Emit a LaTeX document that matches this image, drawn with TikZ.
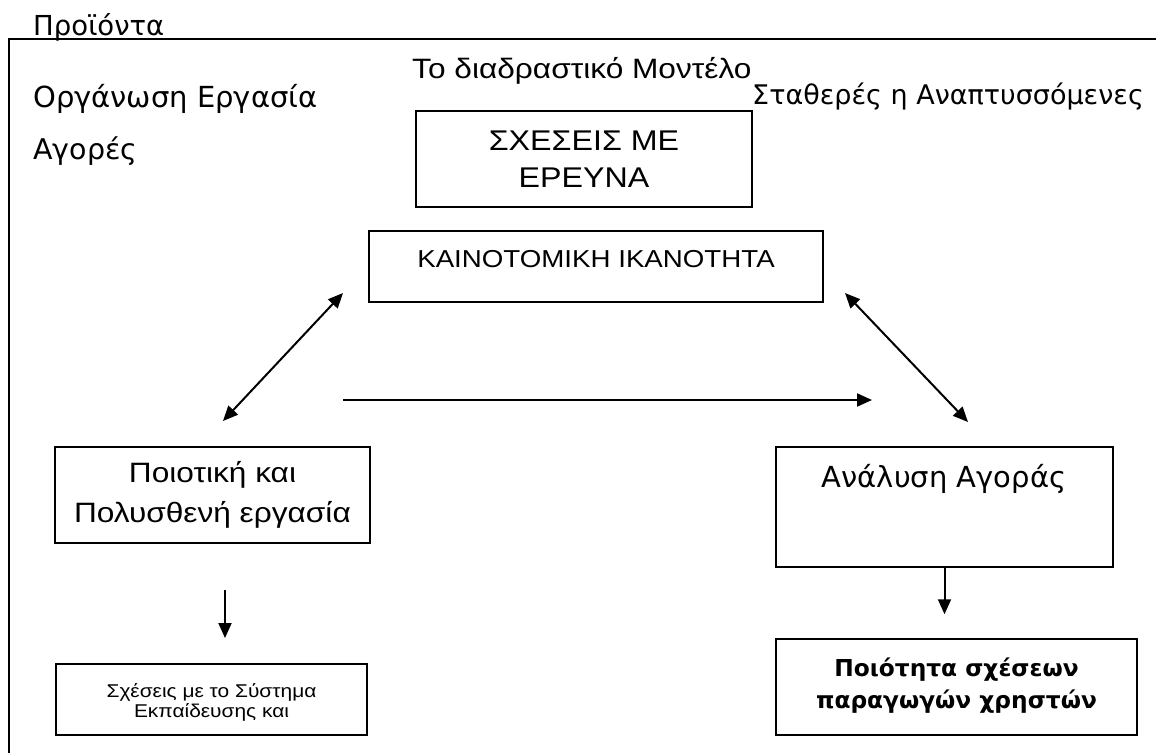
\documentclass[tikz,border=0pt]{standalone}
\usepackage{fontspec}
\setmainfont[FakeStretch=1.13]{Liberation Sans}
\newfontfamily\plainsans{DejaVu Sans}
\usetikzlibrary{arrows.meta}
\begin{document}
\begin{tikzpicture}[x=1pt,y=-1pt,
  box/.style={draw,line width=1.5pt,inner sep=0pt},
  link/.style={line width=2pt,-{Triangle[length=15pt,width=13pt]}},
  twoway/.style={line width=2pt,{Triangle[length=15pt,width=13pt]}-{Triangle[length=15pt,width=13pt]}},
  lbl/.style={inner sep=0pt,anchor=base west},
  caption/.style={inner sep=0pt,anchor=base}]
\useasboundingbox (0,0) rectangle (1156,753);
\fill[white] (0,0) rectangle (1156,753);

% outer frame: top and left edges only
\draw[line width=1.5pt] (1156,39) -| (9,753);

% free-standing headings
\node[lbl,font=\plainsans\fontsize{27.5}{32}\selectfont] (products) at (33,35) {Προϊόντα};
\node[lbl,font=\plainsans\fontsize{29}{32}\selectfont] (organisation) at (33,107) {Οργάνωση Εργασία};
\node[lbl,font=\plainsans\fontsize{28.5}{32}\selectfont] (markets) at (33,159) {Αγορές};
\node[lbl,font=\fontsize{28}{32}\selectfont] (title) at (412,78) {Το διαδραστικό Μοντέλο};
\node[lbl,font=\plainsans\fontsize{27}{32}\selectfont] (stable) at (752,104) {Σταθερές η Αναπτυσσόμενες};

% boxes
\node[box,minimum width=336pt,minimum height=96pt,align=center,
      font=\fontsize{28.5}{37}\selectfont] (research) at (584,159) {ΣΧΕΣΕΙΣ ΜΕ\\ΕΡΕΥΝΑ};
\node[box,minimum width=454pt,minimum height=71pt] (innov) at (596,266.5) {};
\node[caption,font=\fontsize{24.5}{28}\selectfont] (innovtext) at (596,267) {ΚΑΙΝΟΤΟΜΙΚΗ ΙΚΑΝΟΤΗΤΑ};

\node[box,minimum width=315pt,minimum height=96pt,align=center,
      font=\fontsize{28}{40}\selectfont] (quality) at (212.5,495) {Ποιοτική και\\Πολυσθενή εργασία};
\node[box,minimum width=311pt,minimum height=71pt] (education) at (211.5,699.5) {};
\node[inner sep=0pt,align=center,font=\fontsize{18.5}{20}\selectfont]
      (educationtext) at (211.5,702) {Σχέσεις με το Σύστημα\\Εκπαίδευσης και};

\node[box,minimum width=337pt,minimum height=120pt] (market) at (944.5,507) {};
\node[caption,font=\plainsans\fontsize{29}{32}\selectfont] (markettext) at (944,487) {Ανάλυση Αγοράς};
\node[box,minimum width=361pt,minimum height=96pt] (relations) at (956.5,687) {};
\node[inner sep=0pt,align=center,font=\plainsans\bfseries\fontsize{23.3}{32}\selectfont]
      (relationstext) at (956.5,686) {Ποιότητα σχέσεων\\παραγωγών χρηστών};

% connectors
\coordinate (lt) at (343,293);
\coordinate (lb) at (223,421);
\coordinate (rt) at (845,293);
\coordinate (rb) at (968,422);
\coordinate (hs) at (343,400);
\coordinate (he) at (872,400);
\coordinate (ds) at (225,590);
\coordinate (de) at (225,638);

\draw[twoway] (lt) -- (lb);
\draw[twoway] (rt) -- (rb);
\draw[link] (hs) -- (he);
\draw[link] (ds) -- (de);
\draw[link,shorten >=24pt] (market.south) -- (market.south |- relations.north);
\end{tikzpicture}
\end{document}
